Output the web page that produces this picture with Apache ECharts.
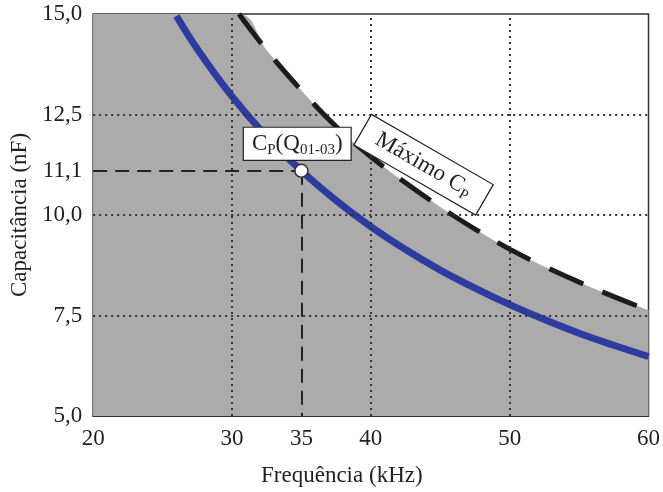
<!DOCTYPE html>
<html><head><meta charset="utf-8">
<script src="https://cdn.jsdelivr.net/npm/echarts@6/dist/echarts.min.js"></script>
<style>html,body{margin:0;padding:0;background:#fff}#c{width:663px;height:492px}</style>
</head><body><div id="c"></div>
<script>
// Blue curve: CP(Q01-03) vs frequency
const freqQ = [26, 27.5, 30, 32.5, 35, 37.5, 40, 42.5, 45, 47.5, 50, 52.5, 55, 57.5, 60];
const cpQ   = [14.95, 14.13, 12.95, 11.95, 11.1, 10.36, 9.71, 9.14, 8.63, 8.18, 7.77, 7.40, 7.06, 6.76, 6.48];
// Dashed curve: Máximo CP
const freqMax = [30.5, 32.5, 35, 37.5, 40, 42.5, 45, 47.5, 50, 52.5, 55, 57.5, 60];
const cpMax   = [15.0, 14.1, 13.1, 12.2, 11.45, 10.8, 10.2, 9.65, 9.15, 8.72, 8.33, 7.97, 7.63];
// Axis ticks and grid lines
const xTicks = [20, 30, 35, 40, 50, 60];
const yTicks = [5, 7.5, 10, 11.1, 12.5, 15];
const xGrid = [30, 40, 50];
const yGrid = [7.5, 10, 12.5];
const opPoint = [35, 11.1];
const xRange = [20, 60];
const yRange = [5, 15];

const serif = "'Liberation Serif', 'DejaVu Serif', serif";
const txt = '#231f20';
const maxPts = freqMax.map((f, i) => [f, cpMax[i]]);
const areaPts = [[xRange[0], yRange[1]]].concat(maxPts);
const qPts = freqQ.map((f, i) => [f, cpQ[i]]);
const fmt = v => (Math.round(v * 10) / 10).toFixed(1).replace('.', ',');

const chart = echarts.init(document.getElementById('c'), null, {renderer: 'canvas'});
chart.setOption({
  animation: false,
  backgroundColor: '#fff',
  grid: {left: 93, right: 8, top: 14, bottom: 73, show: true, borderColor: '#333', borderWidth: 1.5, backgroundColor: '#fff'},
  xAxis: {
    type: 'value', min: xRange[0], max: xRange[1],
    name: 'Frequência (kHz)', nameLocation: 'middle', nameGap: 48,
    nameTextStyle: {fontFamily: serif, fontSize: 23, color: txt, padding: [0, 58, 0, 0]},
    axisLine: {show: true, lineStyle: {color: '#222', width: 1.5}},
    axisTick: {show: false},
    splitLine: {show: false},
    axisLabel: {customValues: xTicks, fontFamily: serif, fontSize: 23, color: txt, margin: 11}
  },
  yAxis: {
    type: 'value', min: yRange[0], max: yRange[1],
    name: 'Capacitância (nF)', nameLocation: 'middle', nameGap: 60,
    nameTextStyle: {fontFamily: serif, fontSize: 23, color: txt},
    axisLine: {show: true, lineStyle: {color: '#777', width: 1.5}},
    axisTick: {show: false},
    splitLine: {show: false},
    axisLabel: {customValues: yTicks, fontFamily: serif, fontSize: 23, color: txt, margin: 11, formatter: fmt}
  },
  series: [
    {
      type: 'line', data: areaPts, showSymbol: false, smooth: 0.4,
      lineStyle: {width: 0}, areaStyle: {color: '#ababab', origin: 'start', opacity: 1}, z: 1, silent: true
    },
    {
      type: 'line', data: [], z: 2, silent: true,
      markLine: {
        silent: true, symbol: 'none', label: {show: false},
        lineStyle: {color: '#333', width: 2, type: [2, 4]},
        data: xGrid.map(v => ({xAxis: v})).concat(yGrid.map(v => ({yAxis: v})))
      }
    },
    {
      type: 'line', data: maxPts, showSymbol: false, smooth: 0.4, z: 3,
      lineStyle: {color: '#1c1c1c', width: 5, type: [37, 21]},
      markPoint: {
        symbol: 'rect', symbolSize: 0,
        data: [{coord: [43.8, 11.25]}],
        label: {
          show: true, position: 'inside', rotate: -30,
          formatter: '{n|Máximo C}{s|P}',
          backgroundColor: '#fff', borderColor: '#222', borderWidth: 1.2, padding: [3, 16, 3, 16],
          rich: {
            n: {fontFamily: serif, fontSize: 23, color: txt, lineHeight: 28},
            s: {fontFamily: serif, fontSize: 15, color: txt, lineHeight: 28, verticalAlign: 'bottom', padding: [10, 0, 0, 0]}
          }
        }
      }
    },
    {
      type: 'line', data: qPts, showSymbol: false, smooth: 0.4, z: 4,
      lineStyle: {color: '#2d3c9e', width: 7}
    },
    {
      type: 'line', data: [], z: 5, silent: true,
      markLine: {
        silent: true, symbol: 'none', label: {show: false},
        lineStyle: {color: '#222', width: 2, type: [14, 8]},
        data: [
          [{coord: [xRange[0], opPoint[1]]}, {coord: [opPoint[0], opPoint[1]]}],
          [{coord: [opPoint[0], opPoint[1]]}, {coord: [opPoint[0], yRange[0]]}]
        ]
      }
    },
    {
      type: 'scatter', data: [opPoint], symbolSize: 13, z: 6,
      itemStyle: {color: '#fff', borderColor: '#333', borderWidth: 1.5, opacity: 1},
      markPoint: {
        symbol: 'rect', symbolSize: 0,
        data: [{coord: [34.7, 11.77]}],
        label: {
          show: true, position: 'inside',
          formatter: '{n|C}{s|P}{n|(Q}{s|01-03}{n|)}',
          backgroundColor: '#fff', borderColor: '#222', borderWidth: 1.2, padding: [2, 8, 2, 8],
          rich: {
            n: {fontFamily: serif, fontSize: 23, color: txt, lineHeight: 28},
            s: {fontFamily: serif, fontSize: 15, color: txt, lineHeight: 28, verticalAlign: 'bottom', padding: [10, 0, 0, 0]}
          }
        }
      }
    }
  ]
});
</script>
</body></html>
